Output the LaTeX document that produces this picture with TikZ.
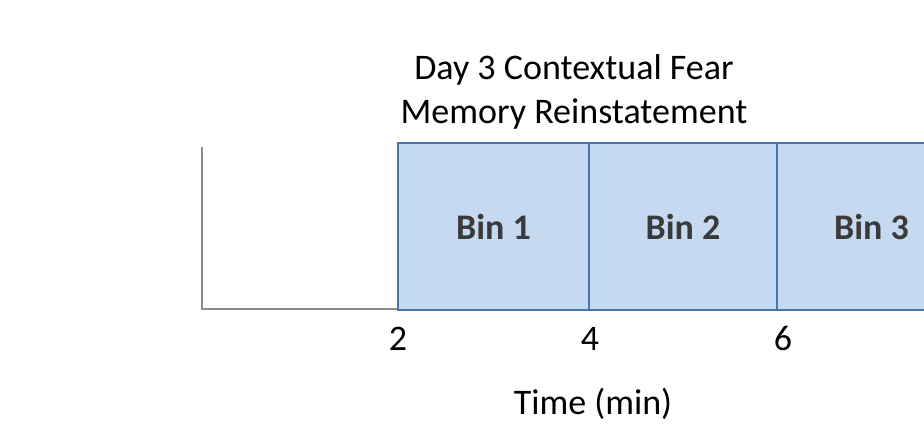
\documentclass[tikz,border=0pt]{standalone}
\usepackage{fontspec}
\setmainfont{Carlito}
\definecolor{binfill}{HTML}{C5D9F1}
\definecolor{binedge}{HTML}{4A76A8}
\definecolor{bintext}{HTML}{3A3A3A}
\definecolor{axisgray}{HTML}{8C8C8C}
\tikzset{
  binbox/.style={draw=binedge, line width=2pt, fill=binfill, minimum height=166pt, inner sep=0pt, font=\fontsize{36}{44}\selectfont\bfseries, text=bintext},
  lbl/.style={inner sep=0pt, anchor=base, font=\fontsize{36}{44}\selectfont, text=black},
  axisline/.style={draw=axisgray, line width=2pt}
}
\begin{document}
\begin{tikzpicture}[x=1pt,y=-1pt]
\useasboundingbox (0,0) rectangle (924,425);
\clip (0,0) rectangle (924,425);
% axis
\coordinate (ytop) at (202,147);
\coordinate (orig) at (202,308.5);
\coordinate (xend) at (398,308.5);
\draw[axisline] (ytop) -- (orig) -- (xend);
% bins
\node[binbox, minimum width=191pt] (b1) at (493.5,226.5) {Bin 1};
\node[binbox, minimum width=188pt] (b2) at (683,226.5) {Bin 2};
\node[binbox, minimum width=189pt] (b3) at (871.5,226.5) {Bin 3};
% title
\node[lbl] (t1) at (574,80) {Day 3 Contextual Fear};
\node[lbl] (t2) at (574,124) {Memory Reinstatement};
% ticks
\node[lbl] (n2) at (398,350) {2};
\node[lbl] (n4) at (590,350) {4};
\node[lbl] (n6) at (783,350) {6};
\node[lbl] (xl) at (593,414) {Time (min)};
\end{tikzpicture}
\end{document}
